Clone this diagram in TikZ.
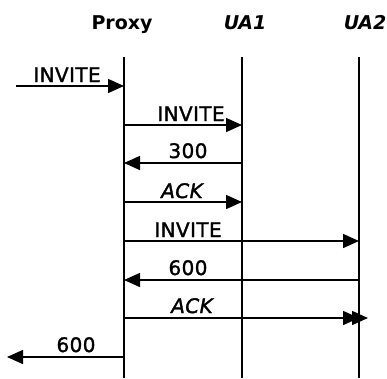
\documentclass[tikz,border=0pt]{standalone}
\usepackage{fontspec}
\setmainfont{DejaVu Sans}
\usetikzlibrary{arrows.meta}
\begin{document}
\begin{tikzpicture}[x=1pt,y=-1pt,
  life/.style={line width=1.5pt},
  msg/.style={line width=1.5pt,-{Triangle[length=16pt,width=14pt]}},
  lbl/.style={font=\fontsize{20}{21}\selectfont\addfontfeature{LetterSpace=2,FakeBold=1.5},inner sep=0pt,anchor=base},
  head/.style={font=\bfseries\fontsize{19}{20}\selectfont,inner sep=0pt,anchor=base}]
\useasboundingbox (0,0) rectangle (387,378);
% headers
\node[head] (hP) at (122,29) {Proxy};
\node[head] (hA) at (245,29) {\itshape UA1};
\node[head] (hB) at (365,29) {\itshape UA2};
% lifelines
\coordinate (Pt) at (124,57); \coordinate (Pb) at (124,378);
\coordinate (At) at (242,57); \coordinate (Ab) at (242,378);
\coordinate (Bt) at (359,57); \coordinate (Bb) at (359,378);
\draw[life] (Pt) -- (Pb);
\draw[life] (At) -- (Ab);
\draw[life] (Bt) -- (Bb);
% message endpoints
\coordinate (in1) at (16,86); \coordinate (p1) at (124,86);
\coordinate (p2) at (124,125); \coordinate (a2) at (242,125);
\coordinate (p3) at (124,163); \coordinate (a3) at (242,163);
\coordinate (p4) at (124,202); \coordinate (a4) at (242,202);
\coordinate (p5) at (124,241); \coordinate (b5) at (359,241);
\coordinate (p6) at (124,280); \coordinate (b6) at (359,280);
\coordinate (p7) at (124,318); \coordinate (b7) at (359,318); \coordinate (b7x) at (368,318);
\coordinate (p8) at (124,357); \coordinate (out8) at (7,357);
\draw[msg] (in1) -- (p1);
\draw[msg] (p2) -- (a2);
\draw[msg] (a3) -- (p3);
\draw[msg] (p4) -- (a4);
\draw[msg] (p5) -- (b5);
\draw[msg] (b6) -- (p6);
\draw[msg] (p7) -- (b7);
\draw[msg] (b7) -- (b7x);
\draw[msg] (p8) -- (out8);
% labels
\node[lbl] (l1) at (67,82) {INVITE};
\node[lbl] (l2) at (191,121) {INVITE};
\node[lbl] (l3) at (188,158) {300};
\node[lbl] (l4) at (182,198) {\itshape ACK};
\node[lbl] (l5) at (188,237) {INVITE};
\node[lbl] (l6) at (188,275) {600};
\node[lbl] (l7) at (192,313) {\itshape ACK};
\node[lbl] (l8) at (76,352) {600};
\end{tikzpicture}
\end{document}
